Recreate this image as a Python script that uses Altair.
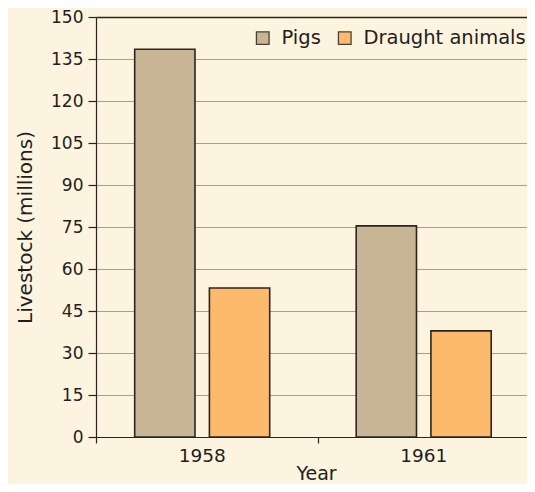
import altair as alt
import pandas as pd

years = ["1958", "1958", "1961", "1961"]
kinds = ["Pigs", "Draught animals", "Pigs", "Draught animals"]
values = [138.5, 53.2, 75.4, 37.9]

y_ticks = list(range(0, 151, 15))
kind_order = ["Pigs", "Draught animals"]
kind_colors = ["#c7b595", "#fdb96c"]

df = pd.DataFrame({"Year": years, "Kind": kinds, "Value": values})

FONT = "DejaVu Sans"
BG = "#fcf4df"
INK = "#2b2522"
TXT = "#1e1e1e"

bars = alt.Chart(df).mark_bar(stroke=INK, strokeWidth=1.6).encode(
    x=alt.X(
        "Year:N",
        title="Year",
        scale=alt.Scale(range=[0, 443], paddingInner=0, paddingOuter=0),
        axis=alt.Axis(
            labelAngle=0,
            tickBand="extent",
            tickSize=6,
            tickColor=INK,
            tickWidth=1.2,
            domainColor=INK,
            domainWidth=1.2,
            labelFontSize=18.5,
            labelFont=FONT,
            labelColor=TXT,
            labelPadding=3,
            labelOffset=-5,
            titleFontSize=19,
            titleFont=FONT,
            titleFontWeight="normal",
            titleColor=TXT,
            titleBaseline="alphabetic",
            titleY=42,
            titleX=220,
            grid=False,
        ),
    ),
    xOffset=alt.XOffset(
        "Kind:N",
        sort=kind_order,
        scale=alt.Scale(range=[38.7, 173.7], paddingInner=0.193, paddingOuter=0),
    ),
    y=alt.Y(
        "Value:Q",
        title="Livestock (millions)",
        scale=alt.Scale(domain=[0, 150], nice=False),
        axis=alt.Axis(
            values=y_ticks,
            tickSize=8,
            tickColor=INK,
            tickWidth=1.2,
            domainColor=INK,
            domainWidth=1.2,
            labelFontSize=17,
            labelFont=FONT,
            labelColor=TXT,
            labelPadding=5,
            titleFontSize=20,
            titleFont=FONT,
            titleFontWeight="normal",
            titleColor=TXT,
            titlePadding=15,
            grid=True,
            gridColor={"condition": {"test": "datum.value === 150", "value": INK}, "value": "#a59f8e"},
            gridWidth={"condition": {"test": "datum.value === 150", "value": 1.4}, "value": 1.2},
        ),
    ),
    color=alt.Color(
        "Kind:N",
        sort=kind_order,
        scale=alt.Scale(domain=kind_order, range=kind_colors),
        legend=alt.Legend(
            title=None,
            orient="none",
            direction="horizontal",
            legendX=157,
            legendY=11,
            symbolType="square",
            symbolSize=160,
            symbolStrokeColor="#4a4038",
            symbolStrokeWidth=1.3,
            symbolOpacity=1,
            labelFontSize=19.5,
            labelFont=FONT,
            labelColor=TXT,
            labelLimit=400,
            labelOffset=9,
            columnPadding=14,
            padding=0,
        ),
    ),
).properties(width=431, height=420)

chart = bars.properties(
    background=BG,
    padding={"left": 88, "top": 9, "right": 0, "bottom": 47},
    autosize=alt.AutoSizeParams(type="none"),
).configure_view(strokeWidth=0, strokeOpacity=0, fill=BG)

chart.save("out.html", embed_options={"renderer": "svg", "actions": False})
